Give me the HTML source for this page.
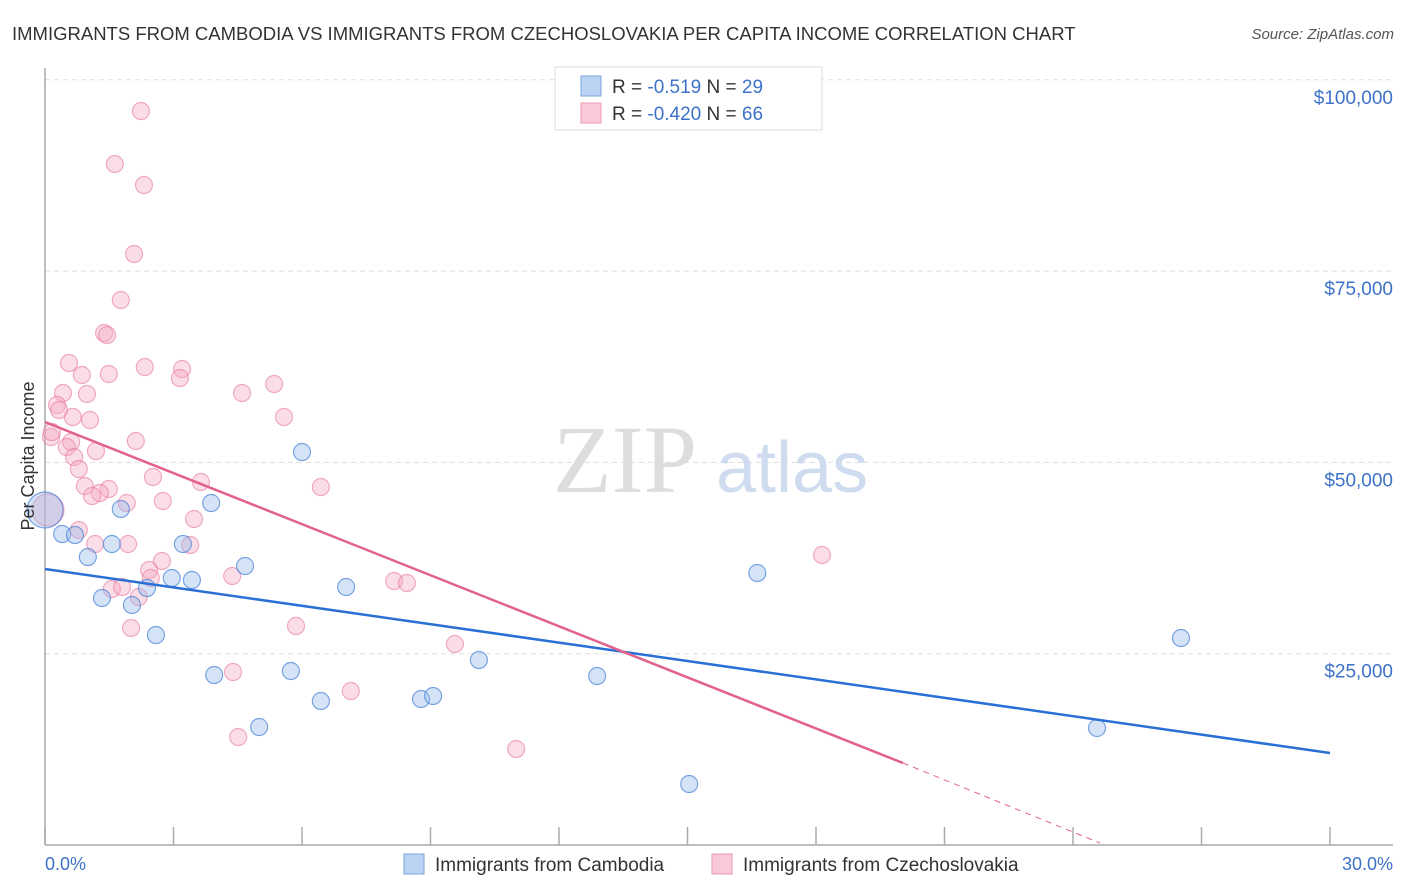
<!DOCTYPE html>
<html><head><meta charset="utf-8"><style>
body{margin:0;background:#fff;font-family:"Liberation Sans",sans-serif}
svg{display:block}
</style></head><body>
<svg id="chart" width="1406" height="892" xmlns="http://www.w3.org/2000/svg" font-family="Liberation Sans, sans-serif">
<text x="12" y="40" font-size="18.5" fill="#333">IMMIGRANTS FROM CAMBODIA VS IMMIGRANTS FROM CZECHOSLOVAKIA PER CAPITA INCOME CORRELATION CHART</text>
<text x="1394" y="39" font-size="15" font-style="italic" fill="#555" text-anchor="end">Source: ZipAtlas.com</text>
<g id="grid"></g>
<text x="553" y="492" font-size="96" font-family="Liberation Serif, serif" fill="#ddd">ZIP</text>
<text x="716" y="492" font-size="72" fill="#cfdcef">atlas</text>
<line x1="45" y1="68" x2="45" y2="845" stroke="#aaa" stroke-width="1.5"/>
<line x1="45" y1="845" x2="1393" y2="845" stroke="#aaa" stroke-width="1.5"/>
<g id="ticks"></g>
<g id="pts"></g>
<g id="lines"></g>
<text transform="translate(34,456) rotate(-90)" font-size="18" fill="#333" text-anchor="middle">Per Capita Income</text>
<text x="45" y="870" font-size="18" fill="#3d72c9">0.0%</text>
<text x="1393" y="870" font-size="18" fill="#3d72c9" text-anchor="end">30.0%</text>
<g>
<rect x="555" y="67" width="267" height="63" fill="#fff" stroke="#ddd"/>
<rect x="581" y="76" width="20" height="20" fill="#bcd4f4" stroke="#7aa3dd"/>
<rect x="581" y="103" width="20" height="20" fill="#f9c9d8" stroke="#ea9ab5"/>
<text x="612" y="93" font-size="19" fill="#333">R = <tspan fill="#3d72c9"> -0.519</tspan>   N = <tspan fill="#3d72c9">29</tspan></text>
<text x="612" y="120" font-size="19" fill="#333">R = <tspan fill="#3d72c9">-0.420</tspan>   N = <tspan fill="#3d72c9">66</tspan></text>
</g>
<g>
<rect x="404" y="854" width="20" height="20" fill="#bcd4f4" stroke="#7aa3dd"/>
<text x="435" y="871" font-size="19" fill="#333">Immigrants from Cambodia</text>
<rect x="712" y="854" width="20" height="20" fill="#f9c9d8" stroke="#ea9ab5"/>
<text x="743" y="871" font-size="19" fill="#333">Immigrants from Czechoslovakia</text>
</g>
</svg>
<script>
const yTicks=[25000,50000,75000,100000];
const yTickLabels=["$25,000","$50,000","$75,000","$100,000"];
const xTicks=[0,3,6,9,12,15,18,21,24,27,30];
const cambX=[0,0.40,0.70,1.00,1.33,1.56,1.77,2.03,2.38,2.59,2.96,3.22,3.43,3.88,3.95,4.67,5.00,5.74,6.00,6.44,7.03,8.78,9.06,10.13,12.89,15.04,16.63,24.56,26.52];
const cambY=[43778,40641,40511,37636,32278,39335,43908,31363,33585,27443,34892,39335,34630,44693,22216,36460,15420,22738,51357,18818,33715,19079,19471,24176,22085,7971,35545,15290,27051];
const czX=[2.24,1.63,2.31,2.08,1.77,1.38,1.45,0.56,0.86,1.49,2.33,3.20,3.15,4.60,5.35,0.42,0.98,0.28,0.33,5.58,0.65,1.05,0.14,0.16,2.12,0.61,0.51,1.19,0.68,0.79,2.52,3.64,6.44,0.93,1.49,1.28,1.10,2.75,1.91,0.07,3.48,0.79,1.17,1.94,3.39,2.73,18.14,2.43,2.47,4.37,1.56,1.80,2.19,8.15,8.45,2.01,5.86,9.57,4.39,7.14,4.51,11.00];
const czY=[95919,88993,86249,77232,71221,66908,66647,62988,61420,61550,62465,62204,61028,59067,60243,59067,58937,57499,56846,55931,55931,55539,53317,53971,52795,52664,52011,51488,50704,49136,48090,47436,46783,46914,46522,46000,45608,44954,44693,43778,42602,41164,39335,39335,39204,37113,37897,35937,34892,35153,33454,33715,32409,34500,34238,28358,28619,26267,22608,20125,14113,12545];
const cambTrend=[36068,12023];
const czTrend=[55278,10716,261];
const czTrendX=[0,20.03,24.63];
const NS="http://www.w3.org/2000/svg";
const X=v=>45+v/30*1285;
const Y=v=>845-v/25000*191.3;
function mk(t,a,p){const e=document.createElementNS(NS,t);for(const k in a)e.setAttribute(k,a[k]);p.appendChild(e);return e;}
const grid=document.getElementById('grid');
yTicks.forEach((v,i)=>{
 const l=mk('line',{x1:45,x2:1393,y1:Y(v),y2:Y(v),stroke:'#ddd','stroke-dasharray':'5,4'},grid);
 
 
 const t=mk('text',{x:1393,y:Y(v)+24,'font-size':19,fill:'#3d72c9','text-anchor':'end'},grid);
 t.textContent=yTickLabels[i];
 
 
});
const ticks=document.getElementById('ticks');
xTicks.forEach(v=>{
 const l=mk('line',{x1:X(v),x2:X(v),y1:827,y2:845,stroke:'#aaa','stroke-width':1.5},ticks);
 
 
});
const pts=document.getElementById('pts');
czX.forEach((x,i)=>{
 const c=mk('circle',{cx:X(x),cy:Y(czY[i]),r:i==39?16:8.5,fill:'rgba(246,170,195,0.4)',stroke:'rgba(230,120,158,0.6)','stroke-width':1.2},pts);
 
 
});
cambX.forEach((x,i)=>{
 const c=mk('circle',{cx:X(x),cy:Y(cambY[i]),r:i==0?18:8.5,fill:'rgba(150,185,235,0.4)',stroke:'rgba(70,130,215,0.7)','stroke-width':1.2},pts);
 
 
});
const lines=document.getElementById('lines');
let l1=mk('line',{x1:X(0),y1:Y(cambTrend[0]),x2:X(30),y2:Y(cambTrend[1]),stroke:'#2a6fd6','stroke-width':2.5},lines);


let l2=mk('line',{x1:X(czTrendX[0]),y1:Y(czTrend[0]),x2:X(czTrendX[1]),y2:Y(czTrend[1]),stroke:'#e2628e','stroke-width':2.5},lines);


let l3=mk('line',{x1:X(czTrendX[1]),y1:Y(czTrend[1]),x2:X(czTrendX[2]),y2:Y(czTrend[2]),stroke:'#e2628e','stroke-width':1,'stroke-dasharray':'6,5'},lines);


</script>
</body></html>
